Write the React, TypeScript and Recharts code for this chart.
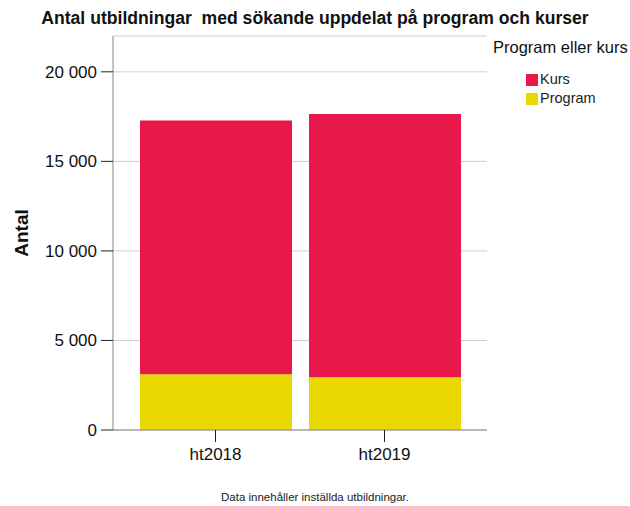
import React from "react";
import { BarChart, Bar, XAxis, YAxis, CartesianGrid, Label } from "recharts";

const terms = ["ht2018", "ht2019"];
const program = [3110, 2940];
const kurs = [14170, 14710];
const yTicks = [0, 5000, 10000, 15000, 20000];

const data = terms.map((t, i) => ({ term: t, program: program[i], kurs: kurs[i] }));

const KURS = "#E8184A";
const PROGRAM = "#EAD900";
const FONT = "'Liberation Sans', Arial, sans-serif";

const fmt = (v: number) => String(v).replace(/\B(?=(\d{3})+(?!\d))/g, " ");

export default function App() {
  return (
    <div style={{ position: "fixed", left: 0, top: 0, width: 630, height: 506, background: "#fff", fontFamily: FONT }}>
      <div style={{ position: "absolute", left: 0, width: 630, top: 8, textAlign: "center", fontWeight: "bold", fontSize: 17.6, color: "#111" }}>
        Antal utbildningar&nbsp; med sökande uppdelat på program och kurser
      </div>
      <BarChart
        width={630}
        height={506}
        data={data}
        margin={{ top: 36, right: 143, left: 33, bottom: 46 }}
        barSize={152}
      >
        <CartesianGrid horizontal vertical={false} stroke="#d0d0d0" />
        <XAxis
          dataKey="term"
          height={30}
          padding={{ left: 18, right: 18 }}
          stroke="#888"
          tick={{ fontSize: 17, fill: "#111", fontFamily: FONT }}
          tickSize={12}
          tickMargin={6}
          tickLine={{ stroke: "#222" }}
        />
        <YAxis
          width={80}
          domain={[0, 22000]}
          ticks={yTicks}
          tickFormatter={fmt}
          stroke="#888"
          tick={{ fontSize: 17, fill: "#111", fontFamily: FONT }}
          tickSize={12}
          tickMargin={4}
          tickLine={{ stroke: "#222" }}
        >
          <Label
            value="Antal"
            angle={-90}
            position="insideLeft"
            offset={-12}
            style={{ fontSize: 19, fontWeight: "bold", fill: "#111", fontFamily: FONT, textAnchor: "middle" }}
          />
        </YAxis>
        <Bar dataKey="program" stackId="a" fill={PROGRAM} isAnimationActive={false} />
        <Bar dataKey="kurs" stackId="a" fill={KURS} isAnimationActive={false} />
      </BarChart>
      <div style={{ position: "absolute", left: 493, top: 38, fontSize: 16.5, color: "#111" }}>Program eller kurs</div>
      <div style={{ position: "absolute", left: 526, top: 70, fontSize: 14.5, color: "#222", lineHeight: "19px" }}>
        <div style={{ display: "flex", alignItems: "center" }}>
          <span style={{ width: 12, height: 12, background: KURS, display: "inline-block", marginRight: 2 }} />
          Kurs
        </div>
        <div style={{ display: "flex", alignItems: "center" }}>
          <span style={{ width: 12, height: 12, background: PROGRAM, display: "inline-block", marginRight: 2 }} />
          Program
        </div>
      </div>
      <div style={{ position: "absolute", left: 0, width: 630, top: 491, textAlign: "center", fontSize: 11.5, color: "#222" }}>
        Data innehåller inställda utbildningar.
      </div>
    </div>
  );
}
